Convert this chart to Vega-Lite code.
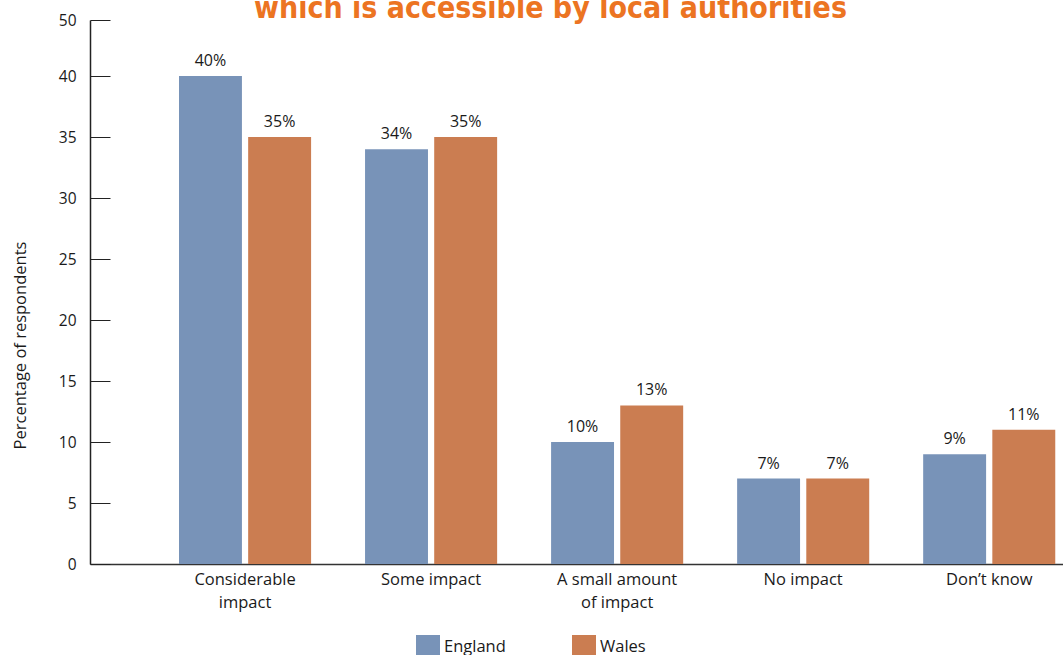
{
  "$schema": "https://vega.github.io/schema/vega-lite/v6.json",
  "autosize": "none",
  "width": 973,
  "height": 544,
  "padding": {"left": 90, "top": 20, "right": 0, "bottom": 91},
  "background": "white",
  "title": {
    "text": "which is accessible by local authorities",
    "font": "DejaVu Sans Condensed",
    "fontSize": 30,
    "fontWeight": "bold",
    "color": "#EC7422",
    "anchor": "middle",
    "frame": "group",
    "baseline": "alphabetic",
    "offset": -35,
    "dx": -26
  },
  "config": {
    "view": {"stroke": null},
    "font": "Open Sans",
    "axis": {"labelFont": "Open Sans", "titleFont": "Open Sans", "labelColor": "#1a1a1a", "titleColor": "#1a1a1a", "grid": false},
    "legend": {"labelFont": "Open Sans"}
  },
  "data": {
    "values": [
      {"impact": "Considerable impact", "country": "England", "value": 40, "label": "40%"},
      {"impact": "Considerable impact", "country": "Wales", "value": 35, "label": "35%"},
      {"impact": "Some impact", "country": "England", "value": 34, "label": "34%"},
      {"impact": "Some impact", "country": "Wales", "value": 35, "label": "35%"},
      {"impact": "A small amount of impact", "country": "England", "value": 10, "label": "10%"},
      {"impact": "A small amount of impact", "country": "Wales", "value": 13, "label": "13%"},
      {"impact": "No impact", "country": "England", "value": 7, "label": "7%"},
      {"impact": "No impact", "country": "Wales", "value": 7, "label": "7%"},
      {"impact": "Don’t know", "country": "England", "value": 9, "label": "9%"},
      {"impact": "Don’t know", "country": "Wales", "value": 11, "label": "11%"}
    ]
  },
  "encoding": {
    "x": {
      "field": "impact",
      "type": "nominal",
      "sort": null,
      "scale": {"paddingInner": 0.29, "paddingOuter": 0.26, "align": 0.92},
      "axis": {
        "title": null,
        "labelAngle": 0,
        "labelFontSize": 16.5,
        "labelPadding": 7,
        "labelLineHeight": 23,
        "labelBaseline": "top",
        "ticks": false,
        "domainColor": "#333333",
        "domainWidth": 1.5,
        "labelExpr": "datum.label == 'Considerable impact' ? ['Considerable', 'impact'] : datum.label == 'A small amount of impact' ? ['A small amount', 'of impact'] : datum.label"
      }
    },
    "xOffset": {"field": "country", "type": "nominal", "scale": {"paddingInner": 0.09, "paddingOuter": 0}},
    "y": {
      "field": "value",
      "type": "quantitative",
      "scale": {"domain": [0, 44.6], "nice": false},
      "axis": {
        "title": "Percentage of respondents",
        "titleFontSize": 16.5,
        "titleFontWeight": "normal",
        "titlePadding": 30,
        "titleY": 325,
        "values": [0, 5, 10, 15, 20, 25, 30, 35, 40, 44.6],
        "labelExpr": "datum.value > 42 ? '50' : datum.label",
        "labelFontSize": 15.5,
        "labelPadding": 34,
        "tickSize": -20,
        "tickColor": "#222222",
        "domainColor": "#222222",
        "domainWidth": 1.5
      }
    },
    "color": {
      "field": "country",
      "type": "nominal",
      "scale": {"domain": ["England", "Wales"], "range": ["#7893B8", "#CB7D51"]},
      "legend": {
        "title": null,
        "orient": "none",
        "direction": "horizontal",
        "legendX": 326,
        "legendY": 615,
        "symbolType": "square",
        "symbolSize": 576,
        "symbolStrokeWidth": 0,
        "symbolOpacity": 1,
        "labelFontSize": 16.5,
        "labelOffset": 4,
        "labelColor": "#1a1a1a",
        "columnPadding": 66
      }
    }
  },
  "layer": [
    {"mark": {"type": "bar"}},
    {
      "mark": {"type": "text", "baseline": "alphabetic", "dy": -10, "fontSize": 16},
      "encoding": {
        "text": {"field": "label", "type": "nominal"},
        "color": {"value": "#1a1a1a"}
      }
    }
  ]
}
